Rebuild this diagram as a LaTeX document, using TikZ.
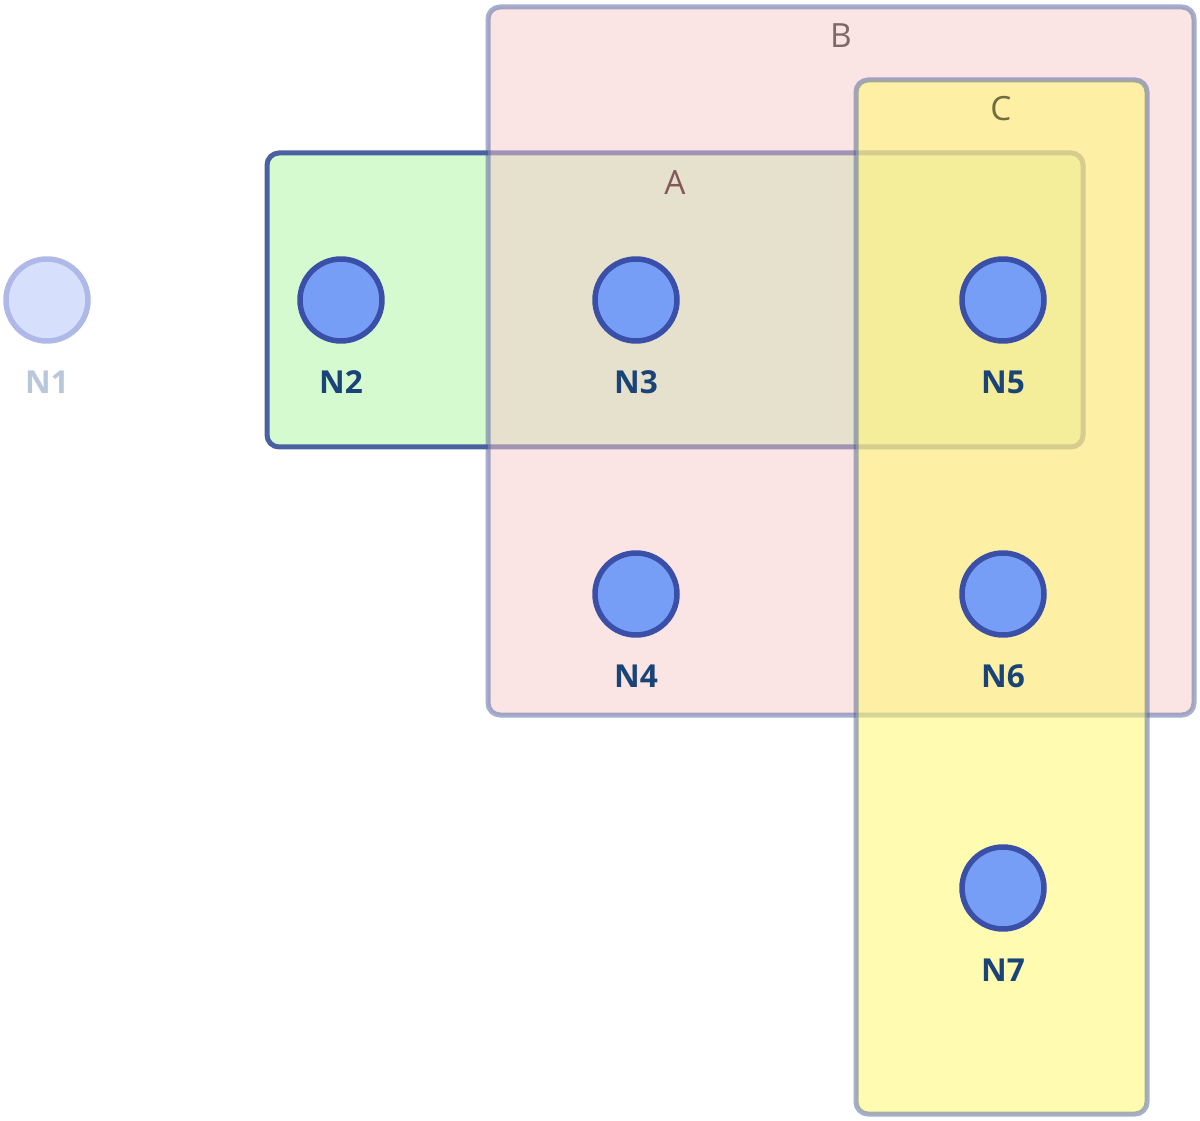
\documentclass[tikz,border=0pt]{standalone}
\usepackage{fontspec}
\setmainfont{Open Sans}
\usetikzlibrary{positioning}

\definecolor{grpAfill}{HTML}{D6FAD0}
\definecolor{grpBfill}{HTML}{F7C9C9}
\definecolor{grpCfill}{HTML}{FFF872}
\definecolor{grpline}{HTML}{4A60A0}
\definecolor{nodefill}{HTML}{779EF7}
\definecolor{nodeline}{HTML}{3A4FA8}
\definecolor{nodetext}{HTML}{1A4478}
\definecolor{fadefill}{HTML}{D6E0FC}
\definecolor{fadeline}{HTML}{AFB9E8}
\definecolor{fadetext}{HTML}{B8C8DA}

\tikzset{
  group/.style={line width=0.1cm, rounded corners=0.24cm},
  grouptitle/.style={
    font=\fontsize{19}{19}\selectfont,
    anchor=base,
    inner sep=0pt
  },
  vertex/.style={
    circle,
    draw=nodeline,
    fill=nodefill,
    line width=0.11cm,
    minimum size=1.64cm,
    inner sep=0pt
  },
  fadedvertex/.style={vertex, draw=fadeline, fill=fadefill},
  vlabel/.style={
    font=\fontsize{18}{18}\selectfont\bfseries,
    text=nodetext,
    anchor=base,
    inner sep=0pt,
    label distance=1.0cm
  }
}

\begin{document}
\begin{tikzpicture}[x=0.02cm,y=-0.02cm]

  \path[use as bounding box] (0,0) rectangle (1200,1121);

  % groups
  \draw[group, draw=grpline, fill=grpAfill]
    (267,153) rectangle (1083,447);
  \draw[group, draw=grpline, draw opacity=0.5,
        fill=grpBfill, fill opacity=0.5]
    (488,7) rectangle (1194,715);
  \draw[group, draw=grpline, draw opacity=0.5,
        fill=grpCfill, fill opacity=0.56]
    (856,80) rectangle (1147,1114);

  \node[grouptitle, text=black!45!red!30!gray] (titleA) at (675,195) {A};
  \node[grouptitle, text=black!45!red!20!gray] (titleB) at (841,48) {B};
  \node[grouptitle, text=black!40!olive!70!gray] (titleC) at (1001,121) {C};

  % vertices
  \node[fadedvertex,
        label={[vlabel, text=fadetext]below:N1}] (N1) at (47,300) {};
  \node[vertex, label={[vlabel]below:N2}] (N2) at (341,300) {};
  \node[vertex, label={[vlabel]below:N3}] (N3) at (636,300) {};
  \node[vertex, label={[vlabel]below:N4}] (N4) at (636,594) {};
  \node[vertex, label={[vlabel]below:N5}] (N5) at (1003,300) {};
  \node[vertex, label={[vlabel]below:N6}] (N6) at (1003,594) {};
  \node[vertex, label={[vlabel]below:N7}] (N7) at (1003,888) {};

\end{tikzpicture}
\end{document}
